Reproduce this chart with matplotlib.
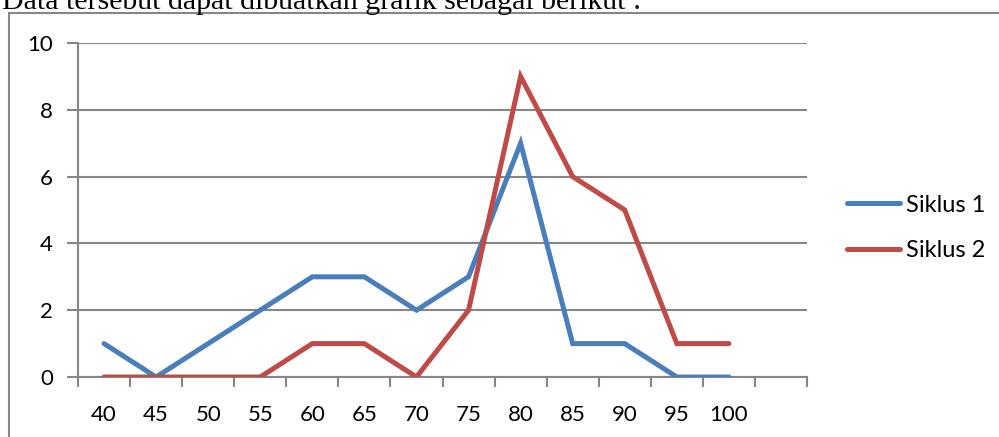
import numpy as np
import matplotlib
matplotlib.use("Agg")
import matplotlib.pyplot as plt
from matplotlib.patches import Rectangle

# data
nilai = ["40", "45", "50", "55", "60", "65", "70", "75", "80", "85", "90", "95", "100"]
siklus1 = [1, 0, 1, 2, 3, 3, 2, 3, 7, 1, 1, 0, 0]
siklus2 = [0, 0, 0, 0, 1, 1, 0, 2, 9, 6, 5, 1, 1]
y_ticks = [0, 2, 4, 6, 8, 10]

blue = "#4A7EBB"
red = "#BE4B48"
grey = "#868686"

plt.rcParams["font.family"] = ["Lato", "DejaVu Sans"]

W, H = 999, 437
fig = plt.figure(figsize=(W / 100, H / 100), dpi=100)

# caption above the chart (cut off at the top, like the page scan)
fig.text(2 / W, 1 - 9 / H, "Data tersebut dapat dibuatkan grafik sebagai berikut :",
         family=["Liberation Serif"], fontsize=21.5, color="black",
         ha="left", va="baseline")

# chart frame
fig.patches.append(Rectangle((9 / W, -0.2), 1.2, 1.2 - 13 / H,
                             transform=fig.transFigure, fill=False,
                             edgecolor=grey, lw=1.5))

ax = fig.add_axes([78 / W, 60 / H, (807 - 78) / W, (377 - 43) / H])
x = np.arange(len(nilai))
ax.plot(x, siklus1, color=blue, lw=3.6, solid_capstyle="round",
        solid_joinstyle="miter", label="Siklus 1")
ax.plot(x, siklus2, color=red, lw=3.6, solid_capstyle="round",
        solid_joinstyle="miter", label="Siklus 2")

ax.set_xlim(-0.5, len(nilai) + 0.5)
ax.set_ylim(0, 10)
ax.set_yticks(y_ticks)
ax.set_xticks(x)
ax.set_xticklabels(nilai)
ax.set_xticks(np.arange(-0.5, len(nilai) + 1), minor=True)
ax.tick_params(axis="x", which="major", length=0, pad=20, labelsize=16)
ax.tick_params(axis="x", which="minor", length=7, width=1.5, color=grey, direction="out")
ax.tick_params(axis="y", length=8, width=1.5, color=grey, pad=10, labelsize=16)
ax.grid(axis="y", color=grey, lw=1.5)
ax.set_axisbelow(True)
for s in ["top", "right"]:
    ax.spines[s].set_visible(False)
for s in ["left", "bottom"]:
    ax.spines[s].set_color(grey)
    ax.spines[s].set_linewidth(1.5)
    ax.spines[s].set_zorder(1.5)

fig.legend(loc="center left", bbox_to_anchor=(847 / W, 1 - 228 / H),
           frameon=False, fontsize=17, handlelength=2.25, handletextpad=0.25,
           labelspacing=1.05, borderaxespad=0, borderpad=0)

fig.savefig("out.png", dpi=100)
